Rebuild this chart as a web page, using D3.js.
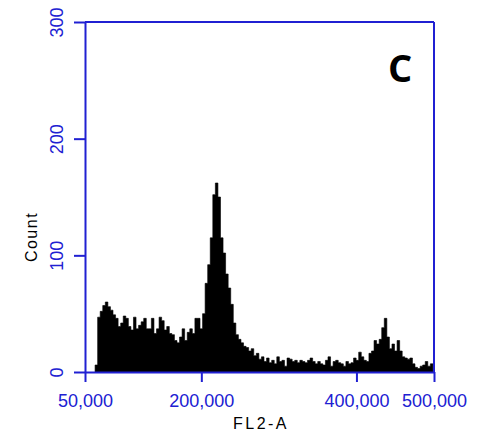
<!DOCTYPE html>
<html>
<head>
<meta charset="utf-8">
<script src="https://cdn.jsdelivr.net/npm/d3@7"></script>
<style>
  html, body { margin: 0; padding: 0; background: #fff; }
  svg { display: block; }
</style>
</head>
<body>
<svg id="chart" width="490" height="438"></svg>
<script>
// ---- data ----
const binStartValue = 63000;   // FL2-A value where the first channel starts
const binWidthValue = 3300;    // FL2-A channel width
const counts = [
  6, 47, 52, 57, 60, 56, 53, 49, 46, 39,
  42, 48, 46, 39, 36, 47, 37, 40, 43, 46,
  37, 37, 46, 33, 37, 47, 44, 36, 39, 33,
  32, 27, 25, 30, 37, 27, 34, 37, 33, 46,
  46, 37, 50, 76, 92, 115, 152, 162, 150, 115,
  102, 84, 72, 58, 42, 32, 28, 25, 22, 21,
  18, 20, 14, 16, 11, 13, 9, 12, 8, 10,
  7, 13, 9, 10, 5, 12, 11, 9, 10, 8,
  10, 9, 8, 10, 12, 9, 7, 9, 7, 6,
  10, 13, 5, 9, 10, 8, 7, 5, 9, 7,
  8, 12, 10, 17, 13, 10, 9, 16, 18, 27,
  24, 28, 38, 46, 30, 20, 24, 18, 27, 18,
  13, 12, 11, 12, 7, 4, 3, 5, 6, 9,
  5, 7
];
const xDomain = [50000, 500000];
const yDomain = [0, 300];
const xTickValues = [50000, 200000, 400000, 500000];
const yTickValues = [0, 100, 200, 300];
const xTitle = "FL2-A";
const yTitle = "Count";
const panelLabel = "C";

// step points: each channel start, plus the end of the last channel
const steps = counts.map((c, i) => ({ v: binStartValue + i * binWidthValue, count: c }));
steps.push({ v: Math.min(binStartValue + counts.length * binWidthValue, xDomain[1]), count: counts[counts.length - 1] });

// ---- layout ----
const blue = "#2020d2";
const svg = d3.select("#chart");
const pLeft = 85, pRight = 434, pTop = 22, pBottom = 372;

const x = d3.scaleLinear().domain(xDomain).range([pLeft, pRight]);
const y = d3.scaleLinear().domain(yDomain).range([pBottom, pTop]);

// histogram (filled step area)
const area = d3.area()
  .curve(d3.curveStepAfter)
  .x(d => x(d.v))
  .y0(y(0))
  .y1(d => y(d.count));

svg.append("path")
  .datum(steps)
  .attr("d", area)
  .attr("fill", "#000")
  .attr("stroke", "#000")
  .attr("stroke-width", 0.6)
  .attr("stroke-linejoin", "miter");

// frame (top and right)
svg.append("line")
  .attr("x1", pLeft).attr("x2", pRight).attr("y1", pTop).attr("y2", pTop)
  .attr("stroke", blue).attr("stroke-width", 2);
svg.append("line")
  .attr("x1", pRight).attr("x2", pRight).attr("y1", pTop).attr("y2", pBottom)
  .attr("stroke", blue).attr("stroke-width", 2);

// y axis
const gy = svg.append("g")
  .attr("transform", `translate(${pLeft},0)`)
  .call(d3.axisLeft(y).tickValues(yTickValues).tickSize(11).tickSizeOuter(0).tickFormat(d3.format("d")));
gy.select(".domain").attr("stroke", blue).attr("stroke-width", 2);
gy.selectAll(".tick line").attr("stroke", blue).attr("stroke-width", 2);
gy.selectAll(".tick text")
  .attr("fill", blue)
  .attr("font-family", "'Liberation Sans', Arial, sans-serif")
  .attr("font-size", 18)
  .attr("text-anchor", "middle")
  .attr("x", null).attr("dy", null)
  .attr("transform", "translate(-22,0) rotate(-90)");

// x axis
const gx = svg.append("g")
  .attr("transform", `translate(0,${pBottom})`)
  .call(d3.axisBottom(x).tickValues(xTickValues).tickSize(10).tickSizeOuter(0).tickFormat(d3.format(",")));
gx.select(".domain").attr("stroke", blue).attr("stroke-width", 2);
gx.selectAll(".tick line").attr("stroke", blue).attr("stroke-width", 2);
gx.selectAll(".tick text")
  .attr("fill", blue)
  .attr("font-family", "'Liberation Sans', Arial, sans-serif")
  .attr("font-size", 18)
  .attr("dy", null)
  .attr("y", 35);

// axis titles
svg.append("text")
  .attr("transform", `translate(37,237) rotate(-90)`)
  .attr("text-anchor", "middle")
  .attr("font-family", "'Liberation Sans', Arial, sans-serif")
  .attr("font-size", 16)
  .attr("letter-spacing", 1.5)
  .attr("fill", "#000")
  .text(yTitle);

svg.append("text")
  .attr("x", 261)
  .attr("y", 429)
  .attr("text-anchor", "middle")
  .attr("font-family", "'Liberation Sans', Arial, sans-serif")
  .attr("font-size", 16)
  .attr("letter-spacing", 2.5)
  .attr("fill", "#000")
  .text(xTitle);

// panel label
svg.append("text")
  .attr("x", 400)
  .attr("y", 82)
  .attr("text-anchor", "middle")
  .attr("font-family", "'Open Sans', sans-serif")
  .attr("font-weight", "bold")
  .attr("font-size", 38)
  .attr("fill", "#000")
  .text(panelLabel);
</script>
</body>
</html>
